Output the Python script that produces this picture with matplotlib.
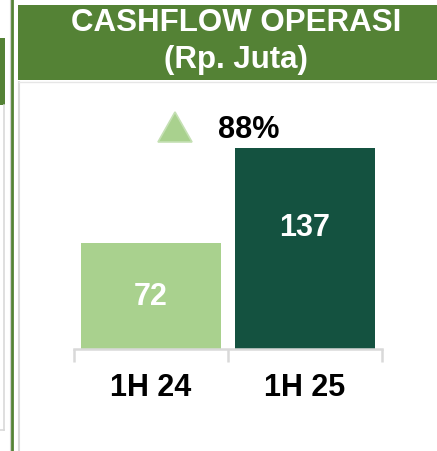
import matplotlib
matplotlib.use("Agg")
import matplotlib.pyplot as plt
from matplotlib.patches import Rectangle, Polygon

categories = ["1H 24", "1H 25"]
values = [72, 137]
growth_label = "88%"
title_line1 = "CASHFLOW OPERASI"
title_line2 = "(Rp. Juta)"

bar_colors = ["#A9D18E", "#145240"]
header_color = "#548235"
FONT = ["Liberation Sans", "DejaVu Sans"]
plt.rcParams["font.family"] = FONT

W, H = 437, 451
fig = plt.figure(figsize=(W / 100, H / 100), dpi=100)
fig.patch.set_facecolor("white")

# background / decoration axes in pixel coordinates
bg = fig.add_axes([0, 0, 1, 1])
bg.set_xlim(0, W)
bg.set_ylim(H, 0)
bg.axis("off")

# left decorations
bg.add_patch(Rectangle((0, 38), 5, 67, color=header_color, lw=0))
bg.plot([3.5, 3.5], [105, 430], color="#D9D9D9", lw=1.2)
bg.plot([0, 3.5], [430, 430], color="#D9D9D9", lw=1.2)
bg.plot([10.3, 10.3], [0, H], color="#D0D0D0", lw=0.8)
bg.plot([11.8, 11.8], [0, H], color=header_color, lw=2.0)
# panel border
bg.plot([18.8, 18.8], [82, H], color="#D9D9D9", lw=1.5)
bg.plot([18.8, W], [81.5, 81.5], color="#E6E6E6", lw=1.0)
# header band
bg.add_patch(Rectangle((18, 5), W - 18, 75, color=header_color, lw=0))
bg.text(236, 23, title_line1, color="white", fontsize=22.5, fontweight="bold",
        ha="center", va="center")
bg.text(236, 60, title_line2, color="white", fontsize=22.5, fontweight="bold",
        ha="center", va="center")

# growth indicator
bg.add_patch(Polygon([(158, 142), (192, 142), (175, 112)], closed=True,
                     facecolor="#A9D18E", edgecolor="#C5E0B4", lw=1.2))
bg.text(218, 130, growth_label, color="black", fontsize=22, fontweight="bold",
        ha="left", va="center")

# bar chart axes
ax = fig.add_axes([74 / W, (H - 349) / H, 308 / W, 220 / H])
ax.set_facecolor("none")
x = list(range(len(categories)))
bars = ax.bar(x, values, width=0.915, color=bar_colors, zorder=2)
ax.set_xlim(-0.5, len(categories) - 0.5)
ax.set_ylim(0, 150)
for s in ["top", "left", "right"]:
    ax.spines[s].set_visible(False)
ax.spines["bottom"].set_color("#D9D9D9")
ax.spines["bottom"].set_linewidth(1.8)
ax.set_yticks([])
ax.set_xticks(x)
ax.set_xticklabels(categories, fontsize=22, fontweight="bold")
ax.tick_params(axis="x", which="major", length=0, pad=17)
ax.set_xticks([i - 0.5 for i in range(len(categories) + 1)], minor=True)
ax.tick_params(axis="x", which="minor", length=9, width=1.8, color="#D9D9D9",
               direction="out")

# value labels inside bars (offset in px below bar top)
label_offsets_px = [54, 80]
for xi, v, off in zip(x, values, label_offsets_px):
    ax.annotate(str(v), xy=(xi, v), xytext=(0, -off), textcoords="offset pixels",
                ha="center", va="center", color="white", fontsize=22,
                fontweight="bold")

fig.savefig("out.png", dpi=100, facecolor="white")
